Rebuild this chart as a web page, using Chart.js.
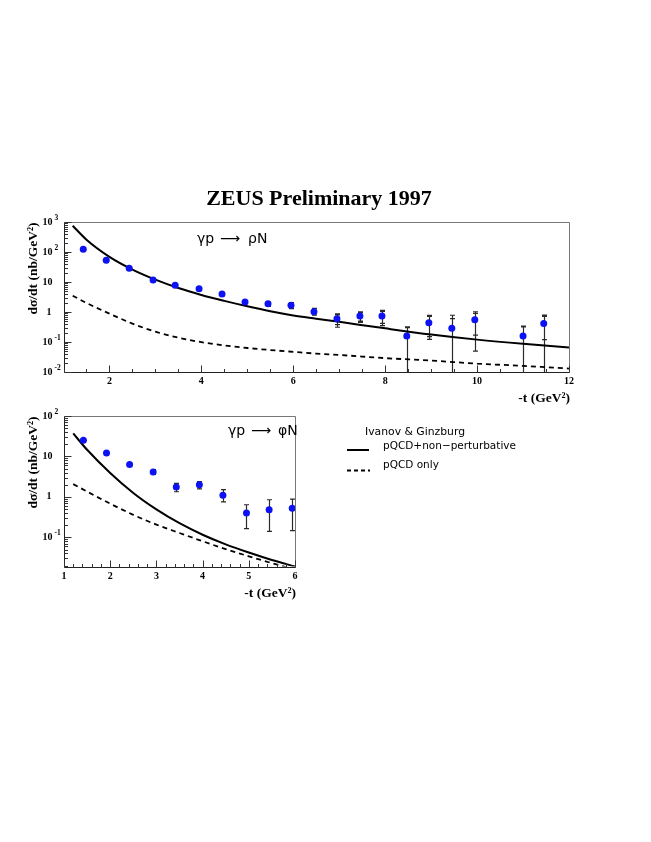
<!DOCTYPE html>
<html><head><meta charset="utf-8">
<script src="https://cdn.jsdelivr.net/npm/chart.js@4.4.1/dist/chart.umd.min.js"></script>
<style>
html,body{margin:0;padding:0;background:#fff;width:651px;height:842px;overflow:hidden}
canvas{position:absolute;left:0}
</style></head><body>
<canvas id="c1" width="620" height="240" style="top:170px"></canvas>
<canvas id="c2" width="620" height="200" style="top:400px"></canvas>
<script>
// ---------- DATA: gamma p -> rho N ----------
const rhoT     = [1.43,1.93,2.43,2.95,3.43,3.95,4.45,4.95,5.45,5.95,6.45,6.95,7.45,7.93,8.47,8.95,9.45,9.95,11.0,11.45];
const rhoVal   = [123,53,28.6,11.7,7.8,6.0,4.0,2.15,1.9,1.67,1.02,0.6,0.74,0.74,0.16,0.44,0.29,0.55,0.16,0.41];
const rhoErrHi = [null,null,null,null,null,null,null,null,2.2,2.05,1.32,0.86,1.02,1.14,0.32,0.78,0.78,1.02,0.34,0.79];
const rhoErrLo = [null,null,null,null,null,null,null,null,1.55,1.3,0.79,0.31,0.45,0.35,0.001,0.123,0.001,0.05,0.001,0.001];
const rhoStatHi= [null,null,null,null,null,null,null,null,null,null,null,0.8,0.95,1.05,0.3,0.72,0.6,0.9,0.32,0.72];
const rhoStatLo= [null,null,null,null,null,null,null,null,null,null,null,0.38,0.5,0.42,null,0.15,null,0.17,null,0.12];
const rhoCurveT = [1.2,1.5,2,2.5,3,3.5,4,4.5,5,5.5,6,6.5,7,8,9,10,11,12];
const rhoFull   = [750,257,69,26,12,6.3,3.7,2.35,1.55,1.06,0.77,0.6,0.47,0.285,0.178,0.12,0.087,0.066];
const rhoPqcd   = [3.5,2.0,0.88,0.41,0.221,0.139,0.099,0.077,0.063,0.054,0.047,0.041,0.037,0.029,0.024,0.019,0.016,0.013];
const rhoXLabels = [2,4,6,8,10,12];

// ---------- DATA: gamma p -> phi N ----------
const phiT     = [1.42,1.92,2.42,2.93,3.43,3.93,4.44,4.95,5.44,5.94];
const phiVal   = [25,12.2,6.3,4.1,1.75,2.0,1.1,0.4,0.48,0.52];
const phiErrHi = [null,null,null,4.7,2.15,2.4,1.52,0.64,0.85,0.88];
const phiErrLo = [null,null,null,3.6,1.34,1.57,0.75,0.164,0.14,0.146];
const phiCurveT = [1.2,1.5,2,2.5,3,3.5,4,4.5,5,5.5,6];
const phiFull   = [37,14.6,3.9,1.25,0.49,0.223,0.116,0.067,0.042,0.0275,0.019];
const phiPqcd   = [2.07,1.35,0.68,0.36,0.206,0.128,0.08,0.051,0.034,0.023,0.016];
const phiXLabels = [1,2,3,4,5,6];

const TITLE = 'ZEUS Preliminary 1997';
const Y_TITLE = 'dσ/dt (nb/GeV²)';
const X_TITLE = '-t (GeV²)';
const LEGEND_HEAD = 'Ivanov & Ginzburg';
const LEGEND_FULL = 'pQCD+non−perturbative';
const LEGEND_PQCD = 'pQCD only';

const SERIF = '"Liberation Serif","Times New Roman",serif';
const SANS = '"DejaVu Sans","Liberation Sans",sans-serif';
const BLUE = '#0c12f2';

function pts(xs, ys){ return xs.map((x,i)=>({x:x,y:ys[i]})); }

function errorBarPlugin(xs, lo, hi, slo, shi){
  return {id:'errbars', beforeDatasetsDraw(chart){
    const c=chart.ctx, a=chart.chartArea, X=chart.scales.x, Y=chart.scales.y;
    c.save();
    c.beginPath(); c.rect(a.left,a.top,a.right-a.left,a.bottom-a.top); c.clip();
    c.strokeStyle='#2a2a2a'; c.lineWidth=1.2;
    xs.forEach((x,i)=>{
      if(hi[i]==null) return;
      const px=Math.round(X.getPixelForValue(x))+0.5;
      const yh=Y.getPixelForValue(hi[i]), yl=Y.getPixelForValue(lo[i]);
      c.beginPath(); c.moveTo(px,yh); c.lineTo(px,yl);
      c.moveTo(px-2.5,yh); c.lineTo(px+2.5,yh);
      c.moveTo(px-2.5,yl); c.lineTo(px+2.5,yl);
      if(shi && shi[i]!=null){ const y=Y.getPixelForValue(shi[i]); c.moveTo(px-2.5,y); c.lineTo(px+2.5,y); }
      if(slo && slo[i]!=null){ const y=Y.getPixelForValue(slo[i]); c.moveTo(px-2.5,y); c.lineTo(px+2.5,y); }
      c.stroke();
    });
    c.restore();
  }};
}

function framePlugin(o){
  return {id:'frame', afterDraw(chart){
    const c=chart.ctx, a=chart.chartArea, X=chart.scales.x, Y=chart.scales.y;
    c.save();
    const L=Math.round(a.left)+0.5, R=Math.round(a.right)+0.5, T=Math.round(a.top)+0.5, B=Math.round(a.bottom)+0.5;
    c.lineWidth=1;
    c.strokeStyle='#777';
    c.beginPath(); c.moveTo(L,T); c.lineTo(R,T); c.lineTo(R,B); c.stroke();
    c.strokeStyle='#222';
    c.beginPath(); c.moveTo(L,T); c.lineTo(L,B); c.lineTo(R,B); c.stroke();
    // x ticks
    c.strokeStyle='#333';
    c.beginPath();
    const n=Math.round((X.max-X.min)/o.xMinor);
    for(let k=0;k<=n;k++){
      const v=X.min+k*o.xMinor;
      const px=Math.round(X.getPixelForValue(v))+0.5;
      const major=o.xLabels.some(l=>Math.abs(l-v)<1e-6);
      c.moveTo(px,B); c.lineTo(px,B-(major?7:3.5));
    }
    // y ticks
    const e0=Math.floor(Math.log10(Y.min)), e1=Math.ceil(Math.log10(Y.max));
    for(let e=e0;e<=e1;e++){
      for(let m=1;m<=9;m++){
        const v=m*Math.pow(10,e);
        if(v<Y.min*0.999||v>Y.max*1.001) continue;
        const py=Math.round(Y.getPixelForValue(v))+0.5;
        c.moveTo(L,py); c.lineTo(L+(m===1?7:3.5),py);
      }
    }
    c.stroke();
    // x labels
    c.fillStyle='#000';
    c.font='bold 10px '+SERIF; c.textAlign='center'; c.textBaseline='middle';
    o.xLabels.forEach(v=>{ c.fillText(String(v), X.getPixelForValue(v), B+9); });
    // y labels
    for(let e=e0;e<=e1;e++){
      const v=Math.pow(10,e);
      if(v<Y.min*0.999||v>Y.max*1.001) continue;
      const py=Y.getPixelForValue(v);
      c.font='bold 10px '+SERIF; c.textAlign='right'; c.textBaseline='middle';
      if(e===0){ c.fillText('1', L-13, py); }
      else { c.fillText('10', L-12, py);
        if(e!==1){ c.font='bold 7.5px '+SERIF; c.textAlign='left'; c.fillText(String(e), L-10, py-4); } }
    }
    // axis titles
    c.font='bold 13.5px '+SERIF; c.textAlign='right'; c.textBaseline='alphabetic';
    c.fillText(X_TITLE, R+0.5, B+29);
    c.save(); c.translate(37, T); c.rotate(-Math.PI/2); c.textAlign='right';
    c.fillText(Y_TITLE, 0, 0); c.restore();
    // process label
    c.font='14px '+SANS; c.textAlign='left'; c.textBaseline='middle';
    c.fillText(o.proc[0], o.procX[0], o.procY);
    c.fillText('⟶', o.procX[1], o.procY);
    c.fillText(o.proc[1], o.procX[2], o.procY);
    if(o.extra) o.extra(c);
    c.restore();
  }};
}

function baseOptions(xmin,xmax,ymin,ymax,pad){
  return {responsive:false, animation:false, devicePixelRatio:1,
    layout:{padding:pad},
    plugins:{legend:{display:false}, tooltip:{enabled:false}},
    scales:{x:{type:'linear',min:xmin,max:xmax,display:false},
            y:{type:'logarithmic',min:ymin,max:ymax,display:false}}};
}

function datasets(ptsX, ptsY, cx, full, pqcd){
  return [
    {data:pts(ptsX,ptsY), pointRadius:3.5, pointBackgroundColor:BLUE, pointBorderWidth:0, showLine:false},
    {data:pts(cx,full), showLine:true, borderColor:'#000', borderWidth:2, pointRadius:0, cubicInterpolationMode:'monotone'},
    {data:pts(cx,pqcd), showLine:true, borderColor:'#000', borderWidth:1.8, borderDash:[5,4], pointRadius:0, cubicInterpolationMode:'monotone'}
  ];
}

// Top chart: canvas top at 170
new Chart(document.getElementById('c1'), {
  type:'scatter',
  data:{datasets:datasets(rhoT,rhoVal,rhoCurveT,rhoFull,rhoPqcd)},
  options:baseOptions(1,12,0.01,1000,{left:63.5,right:51,top:52,bottom:38}),
  plugins:[errorBarPlugin(rhoT,rhoErrLo,rhoErrHi,rhoStatLo,rhoStatHi),
    framePlugin({xMinor:0.5, xLabels:rhoXLabels, proc:['γp','ρN'], procX:[197,220,248], procY:69,
      extra:function(c){ c.font='bold 22px '+SERIF; c.textAlign='center'; c.textBaseline='alphabetic'; c.fillText(TITLE, 319, 35); }})]
});

// Bottom chart: canvas top at 400
new Chart(document.getElementById('c2'), {
  type:'scatter',
  data:{datasets:datasets(phiT,phiVal,phiCurveT,phiFull,phiPqcd)},
  options:baseOptions(1,6,0.019,100,{left:64,right:325,top:16,bottom:33.5}),
  plugins:[errorBarPlugin(phiT,phiErrLo,phiErrHi,null,null),
    framePlugin({xMinor:0.2, xLabels:phiXLabels, proc:['γp','φN'], procX:[228,251,278], procY:31.5,
      extra:function(c){
        c.font='10.8px '+SANS; c.textAlign='left'; c.textBaseline='middle';
        c.fillText(LEGEND_HEAD, 365, 32);
        c.font='10.5px '+SANS;
        c.fillText(LEGEND_FULL, 383, 46);
        c.fillText(LEGEND_PQCD, 383, 65);
        c.strokeStyle='#000'; c.lineWidth=2; c.setLineDash([]);
        c.beginPath(); c.moveTo(347,50); c.lineTo(369,50); c.stroke();
        c.lineWidth=1.8; c.setLineDash([4,3]);
        c.beginPath(); c.moveTo(347,70.5); c.lineTo(370,70.5); c.stroke();
        c.setLineDash([]);
      }})]
});
</script>
</body></html>
